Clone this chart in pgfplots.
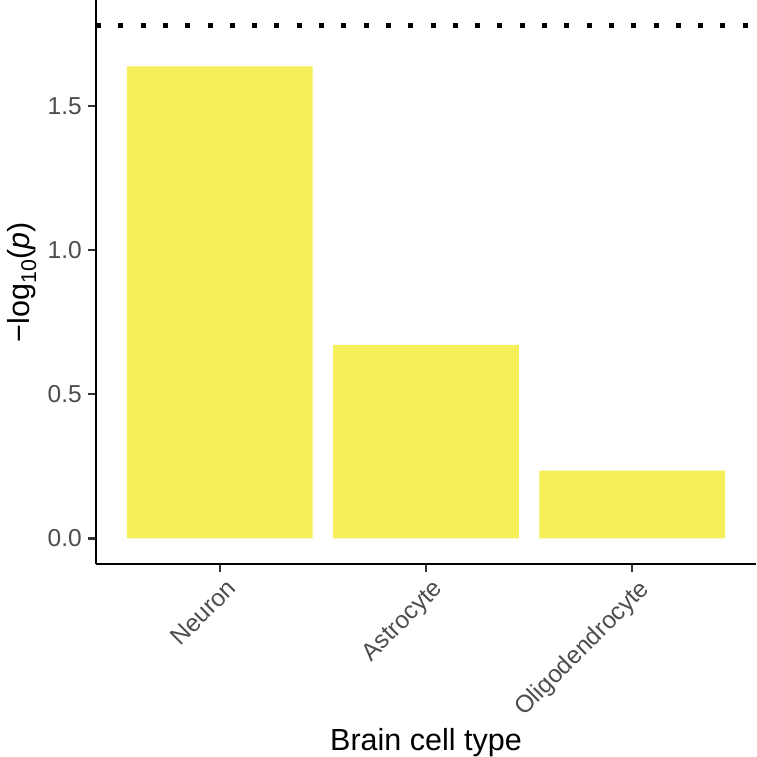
\documentclass[border=0pt]{standalone}
\usepackage{fontspec}
\setmainfont{Liberation Sans}
\usepackage{pgfplots}
\pgfplotsset{compat=1.18}
\definecolor{baryellow}{HTML}{F5EF5A}
\definecolor{tickgray}{HTML}{4D4D4D}
\begin{document}
\begin{tikzpicture}
\path[use as bounding box] (0,0) rectangle (756pt,757pt);
\begin{axis}[
  at={(96pt,193pt)}, anchor=south west,
  scale only axis, width=660pt, height=564pt,
  xmin=0.4, xmax=3.6, ymin=-0.0889, ymax=1.867,
  axis x line*=bottom, axis y line*=left,
  axis line style={line width=2.8pt, black, -},
  xtick={1,2,3}, xticklabels={Neuron,Astrocyte,Oligodendrocyte},
  ytick={0,0.5,1,1.5},
  /pgf/number format/assume math mode=true,
  /pgf/number format/fixed, /pgf/number format/fixed zerofill, /pgf/number format/precision=1,
  tick align=outside, major tick length=8pt,
  tick style={line width=2.4pt, color=black!80},
  ticklabel style={font=\fontsize{24.5}{28}\selectfont, text=tickgray},
  xticklabel style={rotate=45, anchor=north east, inner sep=0pt, yshift=-8pt},
  yticklabel style={inner sep=0pt, xshift=-6pt},
  xlabel={Brain cell type},
  ylabel={−log\textsubscript{10}(\textit{p})},
  label style={font=\fontsize{30.5}{34}\selectfont, text=black},
  xlabel style={at={(axis description cs:0.5,-0.3298)}, anchor=base},
  ylabel style={at={(axis description cs:-0.1121,0.5)}, anchor=center},
  clip=false,
]
\addplot[ybar, bar width=0.9, fill=baryellow, draw=none, bar shift=0pt]
  coordinates {(1,1.637) (2,0.671) (3,0.235)};
\addplot[black, line width=5pt, dash pattern=on 5pt off 17.3pt]
  coordinates {(0.4,1.778) (3.6,1.778)};
\end{axis}
\end{tikzpicture}
\end{document}
